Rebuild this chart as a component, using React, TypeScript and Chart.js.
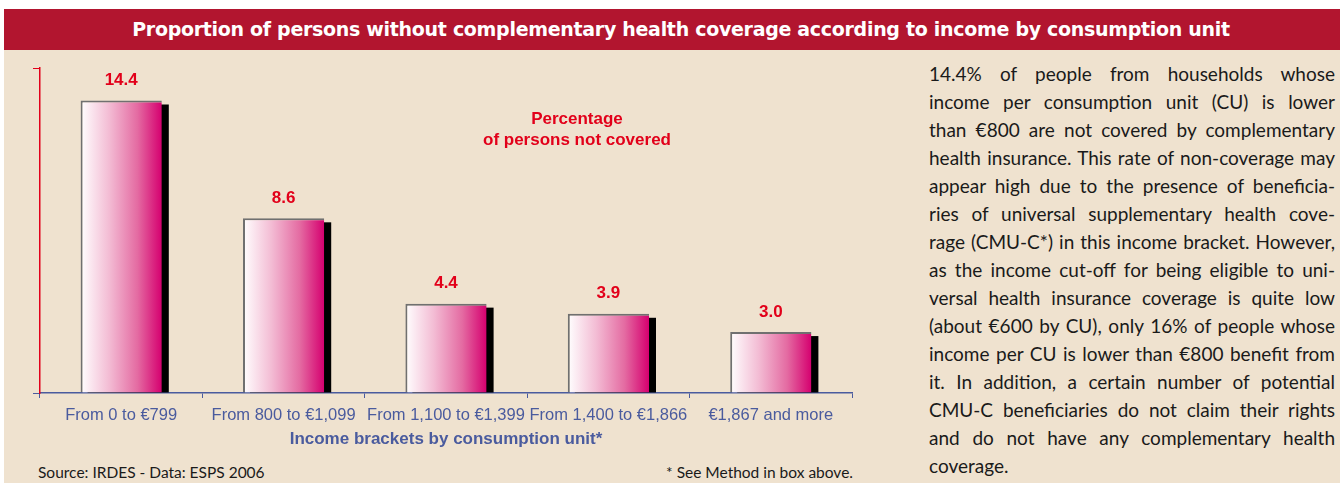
import React, { useEffect, useRef } from 'react';
import { Chart, registerables } from 'chart.js';

Chart.register(...registerables);

const title = 'Proportion of persons without complementary health coverage according to income by consumption unit';
const categories = ['From 0 to €799', 'From 800 to €1,099', 'From 1,100 to €1,399', 'From 1,400 to €1,866', '€1,867 and more'];
const values = [14.4, 8.6, 4.4, 3.9, 3.0];
const valueLabels = ['14.4', '8.6', '4.4', '3.9', '3.0'];
const yTicks = [0, 16];
const yMax = 16;
const xAxisTitle = 'Income brackets by consumption unit*';
const annotationLines = ['Percentage', 'of persons not covered'];
const sourceText = 'Source: IRDES - Data: ESPS 2006';
const noteText = '* See Method in box above.';
const paragraphLines = [
  '14.4% of people from households whose',
  'income per consumption unit (CU) is lower',
  'than €800 are not covered by complementary',
  'health insurance. This rate of non-coverage may',
  'appear high due to the presence of beneficia-',
  'ries of universal supplementary health cove-',
  'rage (CMU-C*) in this income bracket. However,',
  'as the income cut-off for being eligible to uni-',
  'versal health insurance coverage is quite low',
  '(about €600 by CU), only 16% of people whose',
  'income per CU is lower than €800 benefit from',
  'it. In addition, a certain number of potential',
  'CMU-C beneficiaries do not claim their rights',
  'and do not have any complementary health',
  'coverage.',
];

const RED = '#E2001A';
const BLUE = '#4A5B9E';
const BEIGE = '#EFE2CF';
const HEADER = '#B2152F';
const CHART_FONT = '"Liberation Sans", Arial, sans-serif';

const shadowPlugin = {
  id: 'barShadow',
  beforeDatasetsDraw(chart: any) {
    const ctx = chart.ctx;
    const meta = chart.getDatasetMeta(0);
    ctx.save();
    ctx.fillStyle = '#000000';
    meta.data.forEach((el: any) => {
      const { x, y, base, width } = el.getProps(['x', 'y', 'base', 'width'], true);
      ctx.fillRect(x - width / 2 + 7, y + 4, width, base - y - 4);
    });
    ctx.restore();
  },
};

const valueLabelPlugin = {
  id: 'valueLabels',
  afterDatasetsDraw(chart: any) {
    const ctx = chart.ctx;
    const meta = chart.getDatasetMeta(0);
    ctx.save();
    ctx.fillStyle = RED;
    ctx.font = `bold 17px ${CHART_FONT}`;
    ctx.textAlign = 'center';
    ctx.textBaseline = 'middle';
    meta.data.forEach((el: any, i: number) => {
      const { x, y } = el.getProps(['x', 'y'], true);
      ctx.fillText(valueLabels[i], x, y - 20);
    });
    ctx.restore();
  },
};

function barGradient(context: any) {
  const chart = context.chart;
  const area = chart.chartArea;
  if (!area || context.dataIndex === undefined) return '#E46BA2';
  const xs = chart.scales.x;
  const cx = xs.getPixelForValue(context.dataIndex);
  const w = (xs.width / categories.length) * 0.5;
  const g = chart.ctx.createLinearGradient(cx - w / 2, 0, cx + w / 2, 0);
  g.addColorStop(0, '#FFFFFF');
  g.addColorStop(0.35, '#F3BCD4');
  g.addColorStop(0.7, '#E46BA2');
  g.addColorStop(1, '#D5006F');
  return g;
}

function BarChart() {
  const ref = useRef<HTMLCanvasElement | null>(null);
  useEffect(() => {
    if (!ref.current) return;
    const chart = new Chart(ref.current, {
      type: 'bar',
      data: {
        labels: categories,
        datasets: [
          {
            data: values,
            backgroundColor: barGradient as any,
            borderColor: '#707070',
            borderWidth: { top: 2, left: 2, right: 0, bottom: 0 } as any,
            borderSkipped: false,
            barPercentage: 0.5,
            categoryPercentage: 1,
          },
        ],
      },
      options: {
        animation: false,
        responsive: false,
        maintainAspectRatio: false,
        layout: { padding: { left: 0, top: 18, right: 32, bottom: 0 } },
        plugins: { legend: { display: false }, tooltip: { enabled: false } },
        scales: {
          x: {
            grid: {
              drawOnChartArea: false,
              tickLength: 5,
              color: BLUE,
              offset: true,
            },
            border: { color: BLUE, width: 1.5 },
            ticks: {
              color: BLUE,
              font: { family: CHART_FONT, size: 16.5 },
              padding: 8,
              maxRotation: 0,
              autoSkip: false,
            },
            title: {
              display: true,
              text: xAxisTitle,
              color: BLUE,
              font: { family: CHART_FONT, size: 17, weight: 'bold' },
              padding: { top: 0, bottom: 0 },
            },
            afterFit: (scale: any) => {
              scale.height = 57;
            },
          },
          y: {
            min: 0,
            max: yMax,
            afterBuildTicks: (scale: any) => {
              scale.ticks = yTicks.map((v) => ({ value: v }));
            },
            grid: {
              drawOnChartArea: false,
              tickLength: 7,
              color: (c: any) => (c.tick && c.tick.value === 0 ? BLUE : RED),
            },
            border: { color: RED, width: 1.5 },
            ticks: { display: false },
            afterFit: (scale: any) => {
              scale.width = 36;
            },
          },
        },
      },
      plugins: [shadowPlugin, valueLabelPlugin],
    });
    return () => chart.destroy();
  }, []);
  return <canvas ref={ref} width={880} height={400} style={{ width: 880, height: 400, display: 'block' }} />;
}

export default function App() {
  return (
    <div
      style={{
        position: 'absolute',
        left: 0,
        top: 0,
        width: 1340,
        height: 483,
        background: '#FFFFFF',
        overflow: 'hidden',
      }}
    >
      <div style={{ position: 'absolute', left: 4, top: 9, right: 0, bottom: 0, background: BEIGE }} />
      <div
        style={{
          position: 'absolute',
          left: 4,
          top: 9,
          width: 1336,
          height: 41,
          background: HEADER,
        }}
      />
      <div
        style={{
          position: 'absolute',
          left: 4,
          top: 9,
          width: 1354,
          height: 41,
          lineHeight: '41px',
          textAlign: 'center',
          color: '#FFFFFF',
          fontFamily: '"DejaVu Sans", sans-serif',
          fontWeight: 'bold',
          fontSize: 19,
          whiteSpace: 'nowrap',
          letterSpacing: -0.3,
        }}
      >
        {title}
      </div>
      <div style={{ position: 'absolute', left: 4, top: 50 }}>
        <BarChart />
      </div>
      <div
        style={{
          position: 'absolute',
          left: 427,
          top: 108,
          width: 300,
          textAlign: 'center',
          color: RED,
          fontFamily: CHART_FONT,
          fontWeight: 'bold',
          fontSize: 17,
          lineHeight: '21px',
        }}
      >
        {annotationLines.map((l, i) => (
          <div key={i}>{l}</div>
        ))}
      </div>
      <div
        style={{
          position: 'absolute',
          left: 38,
          top: 462,
          color: '#1A1A1A',
          fontFamily: 'Lato, sans-serif',
          fontSize: 15.5,
          lineHeight: '20px',
          whiteSpace: 'nowrap',
        }}
      >
        {sourceText}
      </div>
      <div
        style={{
          position: 'absolute',
          right: 1340 - 853,
          top: 462,
          color: '#1A1A1A',
          fontFamily: 'Lato, sans-serif',
          fontSize: 15.5,
          lineHeight: '20px',
          whiteSpace: 'nowrap',
        }}
      >
        {noteText}
      </div>
      <div
        style={{
          position: 'absolute',
          left: 929,
          top: 60,
          width: 406,
          color: '#1A1A1A',
          fontFamily: 'Lato, sans-serif',
          fontSize: 19,
          lineHeight: '28px',
        }}
      >
        {paragraphLines.map((l, i) => (
          <div
            key={i}
            style={{
              whiteSpace: 'nowrap',
              textAlign: 'justify',
              textAlignLast: i === paragraphLines.length - 1 ? 'left' : 'justify',
              height: 28,
            }}
          >
            {l}
          </div>
        ))}
      </div>
    </div>
  );
}
